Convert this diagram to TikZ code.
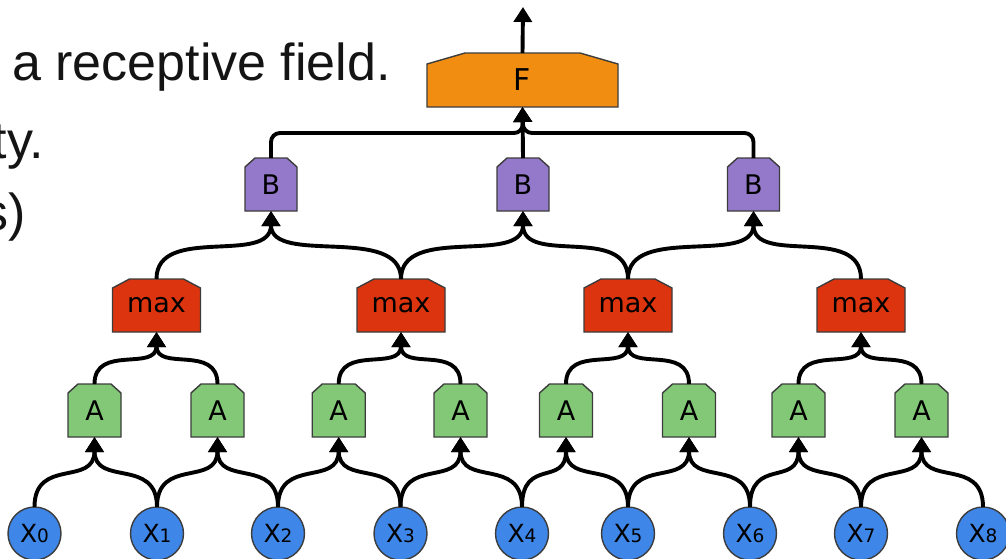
\documentclass[tikz,border=0pt]{standalone}
\usepackage{fontspec}
\setmainfont{Liberation Sans}
\newfontfamily\djv{DejaVu Sans}
\usetikzlibrary{arrows.meta,calc}
\pgfdeclarelayer{background}
\pgfsetlayers{background,main}
\definecolor{forange}{RGB}{241,142,18}
\definecolor{bpurple}{RGB}{148,121,202}
\definecolor{mred}{RGB}{220,52,14}
\definecolor{agreen}{RGB}{130,200,118}
\definecolor{xblue}{RGB}{62,134,232}
\definecolor{edgegray}{RGB}{60,60,60}
\definecolor{slidetext}{RGB}{20,20,20}
\tikzset{
  boxline/.style={draw=edgegray, line width=1.4pt, line join=miter},
  boxtext/.style={inner sep=0pt, outer sep=0pt, font=\djv\fontsize{27}{27}\selectfont, text=black},
  abox/.style={boxtext, minimum width=53pt, minimum height=53pt},
  bbox/.style={boxtext, minimum width=52pt, minimum height=53pt},
  mbox/.style={boxtext, minimum width=88pt, minimum height=53pt},
  fbox/.style={boxtext, font=\djv\fontsize{30}{30}\selectfont, minimum width=191pt, minimum height=54pt},
  xnode/.style={circle, boxline, fill=xblue, minimum size=53pt, inner sep=0pt, outer sep=0pt},
  conn/.style={draw=black, line width=3.9pt, -{Triangle[width=18pt,length=15pt]}},
  slide/.style={inner sep=0pt, text=slidetext, font=\fontsize{52}{52}\selectfont}
}
\newcommand\chamf[5]{% node name, chamfer x, chamfer y, fill colour
  \begin{pgfonlayer}{background}
  \filldraw[boxline, fill=#4] (#1.south west) -- ([yshift=-#3]#1.north west) -- ([xshift=#2]#1.north west)
    -- ([xshift=-#2]#1.north east) -- ([yshift=-#3]#1.north east) -- (#1.south east) -- cycle;
  \end{pgfonlayer}}
\newcommand\xlab[1]{{\djv\fontsize{25}{25}\selectfont X\fontsize{18.5}{18.5}\selectfont #1}}
\newcommand\curve[3]{\draw[conn] (#1.north) .. controls +(0,-#3) and +(0,#3) .. (#2.south);}
\begin{document}
\begin{tikzpicture}[x=1pt,y=-1pt]
\useasboundingbox (0,0) rectangle (1006,558);
% slide text (cut at the left edge)
\node[slide, anchor=base west] (t1) at (12,80) {a receptive field.};
\node[slide, anchor=base east] (t2) at (44,158) {ty.};
\node[slide, anchor=base east] (t3) at (26,230) {s)};
% input nodes
\foreach \i/\x in {0/34.5,1/157,2/278,3/400.5,4/522,5/628,6/750,7/861,8/983}
  \node[xnode] (x\i) at (\x,533.5) {\xlab{\i}};
% A layer
\foreach \i/\x in {1/94.5,2/217.5,3/338.7,4/460.5,5/566,6/689,7/798.5,8/921.5}{
  \node[abox] (a\i) at (\x,410.5) {A};
  \chamf{a\i}{10pt}{9pt}{agreen}{}
}
% max layer
\foreach \i/\x in {1/156.5,2/401,3/628,4/861}{
  \node[mbox] (m\i) at (\x,305.5) {max};
  \chamf{m\i}{17pt}{9pt}{mred}{}
}
% B layer
\foreach \i/\x in {1/271,2/523,3/753.5}{
  \node[bbox] (b\i) at (\x,184.5) {B};
  \chamf{b\i}{10pt}{9pt}{bpurple}{}
}
% F
\node[fbox] (f) at (522.5,80) {F};
\chamf{f}{38pt}{11pt}{forange}{}
\coordinate (fj) at (523,133);
\coordinate (out) at (523,7);
% connectors X -> A
\foreach \s/\t in {x0/a1,x1/a1,x1/a2,x2/a2,x2/a3,x3/a3,x3/a4,x4/a4,x4/a5,x5/a5,x5/a6,x6/a6,x6/a7,x7/a7,x7/a8,x8/a8}
  \curve{\s}{\t}{50};
% A -> max
\foreach \s/\t in {a1/m1,a2/m1,a3/m2,a4/m2,a5/m3,a6/m3,a7/m4,a8/m4}
  \curve{\s}{\t}{40};
% max -> B
\foreach \s/\t in {m1/b1,m2/b1,m2/b2,m3/b2,m3/b3,m4/b3}
  \curve{\s}{\t}{55};
% B -> F
\draw[conn, rounded corners=9pt] (b1.north) |- (fj) -- (f.south);
\draw[conn, rounded corners=9pt] (b3.north) |- (fj) -- (f.south);
\draw[conn] (b2.north) -- (f.south);
% output
\draw[conn] (f.north) -- (out);
\end{tikzpicture}
\end{document}
